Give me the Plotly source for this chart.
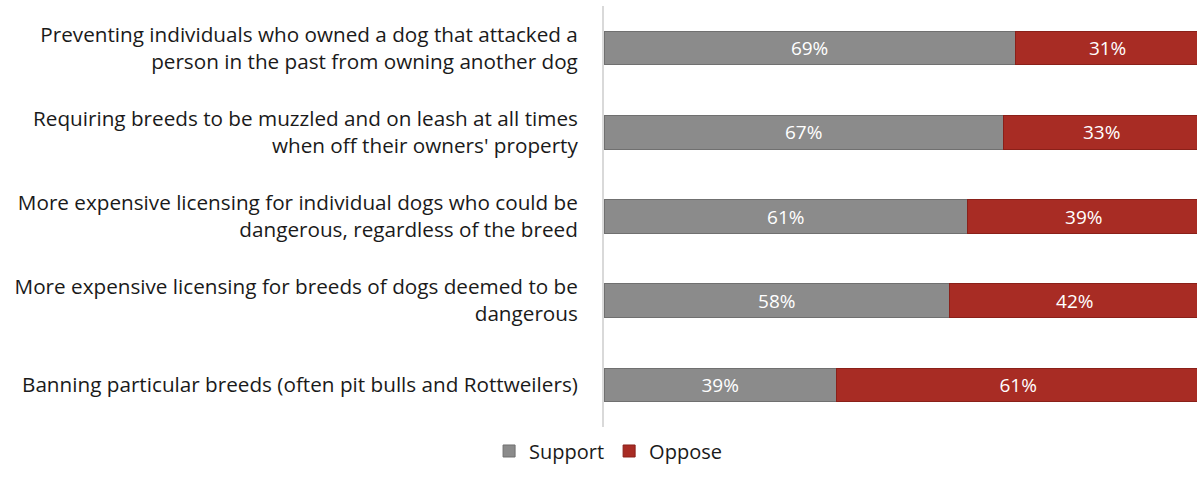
import plotly.graph_objects as go

categories = [
    "Preventing individuals who owned a dog that attacked a<br>person in the past from owning another dog",
    "Requiring breeds to be muzzled and on leash at all times<br>when off their owners' property",
    "More expensive licensing for individual dogs who could be<br>dangerous, regardless of the breed",
    "More expensive licensing for breeds of dogs deemed to be<br>dangerous",
    "Banning particular breeds (often pit bulls and Rottweilers)",
]
support = [69, 67, 61, 58, 39]
oppose = [31, 33, 39, 42, 61]

font = "Open Sans"
fig = go.Figure()
fig.add_trace(go.Bar(
    y=categories, x=support, orientation="h", name="Support",
    marker=dict(color="#8b8b8b", line=dict(color="#707070", width=1)),
    text=[f"{v}%" for v in support], textposition="inside", insidetextanchor="middle",
    textfont=dict(color="white", size=19, family=font),
))
fig.add_trace(go.Bar(
    y=categories, x=oppose, orientation="h", name="Oppose",
    marker=dict(color="#a82c24", line=dict(color="#8a2019", width=1)),
    text=[f"{v}%" for v in oppose], textposition="inside", insidetextanchor="middle",
    textfont=dict(color="white", size=19, family=font),
))
fig.update_layout(
    barmode="stack",
    bargap=0.6,
    width=1197, height=489,
    margin=dict(l=604, r=0, t=6, b=62, autoexpand=False),
    plot_bgcolor="white", paper_bgcolor="white",
    font=dict(family=font, size=18, color="#1a1a1a"),
    legend=dict(orientation="h", x=0.508, xanchor="center", xref="container",
                y=-0.057, yanchor="middle", font=dict(size=20),
                traceorder="normal", itemwidth=30),
    uniformtext=dict(minsize=19, mode="show"),
)
fig.update_xaxes(range=[0, 99.5], showgrid=False, showticklabels=False, zeroline=False,
                 showline=False, automargin=False)
fig.update_yaxes(autorange="reversed", showgrid=False, showline=True, linecolor="#d9d9d9",
                 linewidth=2, ticks="", ticklabelstandoff=20, automargin=False,
                 tickfont=dict(size=20.7, family=font))
fig.write_html("out.html")
